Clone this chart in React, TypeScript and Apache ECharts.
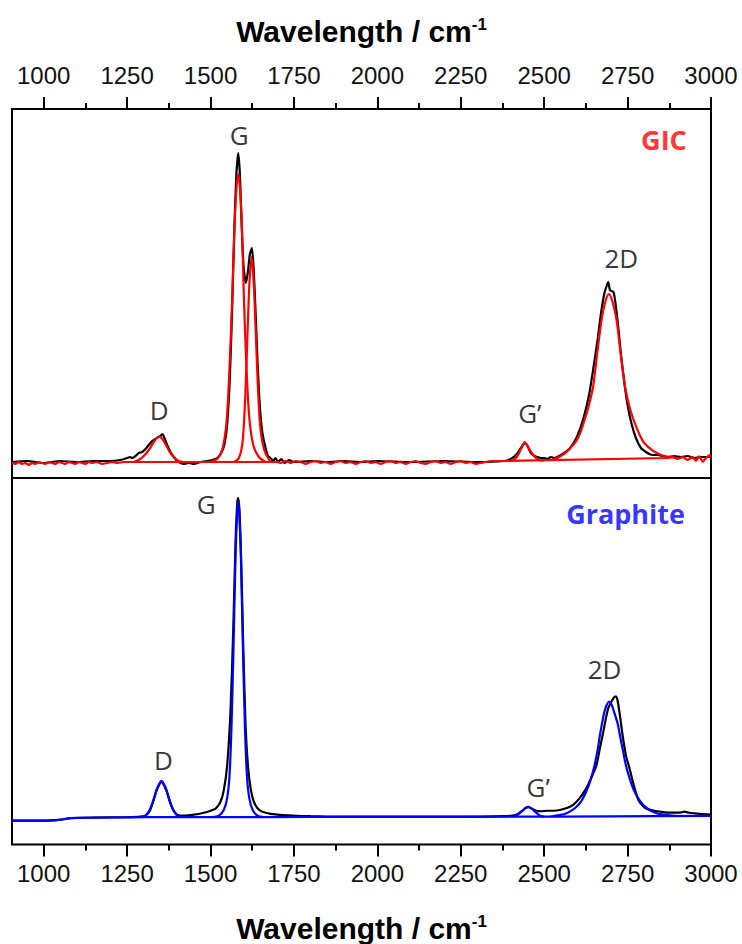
import React, { useEffect, useRef } from "react";
import * as echarts from "echarts";

// ---- axis ticks (cm^-1) ----
const majorTicks = [1000, 1250, 1500, 1750, 2000, 2250, 2500, 2750, 3000];
const minorTicks = [1125, 1375, 1625, 1875, 2125, 2375, 2625, 2875];

// ---- GIC panel (top) : [wavenumber, intensity a.u.] ----
const gicMeasured = [
  [905, 0], [950, 1], [1000, -1], [1050, 1], [1100, 0], [1150, 1], [1200, 1], [1230, 2], [1250, 4], [1258, 5], [1265, 4],
  [1275, 6], [1285, 9], [1295, 10], [1305, 13], [1315, 17], [1325, 21], [1335, 23], [1343, 25], [1350, 26], [1356, 28],
  [1362, 24], [1370, 17], [1380, 10], [1390, 5], [1400, 1], [1410, -1], [1420, -2], [1435, -1], [1450, -2], [1470, 0],
  [1490, 1], [1505, 2], [1520, 4], [1532, 9], [1542, 18], [1550, 38], [1558, 85], [1565, 155], [1571, 230], [1577, 285],
  [1583, 309], [1588, 288], [1593, 240], [1599, 196], [1606, 179], [1612, 190], [1618, 208], [1624, 214], [1629, 195],
  [1635, 150], [1641, 100], [1648, 55], [1656, 28], [1665, 14], [1672, 6], [1680, 4], [1688, 1], [1695, 4], [1702, 0],
  [1712, 3], [1722, -1], [1735, 2], [1750, 0], [1800, 1], [1850, 0], [1900, 1], [1950, 0], [2000, 1], [2100, 0],
  [2200, 1], [2300, 0], [2380, 1], [2400, 3], [2418, 8], [2432, 15], [2442, 19], [2450, 16], [2460, 9], [2470, 6],
  [2480, 5], [2490, 4], [2500, 4], [2510, 3], [2520, 5], [2530, 4], [2545, 6], [2560, 9], [2578, 14], [2598, 25],
  [2618, 44], [2635, 68], [2648, 95], [2660, 122], [2670, 148], [2680, 168], [2687, 176], [2692, 180], [2697, 172],
  [2702, 171], [2708, 170], [2714, 158], [2722, 135], [2730, 108], [2740, 80], [2750, 57], [2762, 38], [2775, 24],
  [2790, 14], [2805, 10], [2815, 8], [2825, 7], [2840, 7], [2855, 6], [2870, 5], [2890, 6], [2910, 5], [2930, 6],
  [2950, 4], [2970, 5], [3000, 5],
];
const gicBaseline = [
  [905, -1], [915, -2], [925, 0], [935, -2], [945, -1], [955, -3], [965, -1], [975, -2], [985, 0], [995, -1], [1005, -2],
  [1015, 0], [1025, -1], [1035, -2], [1045, 0], [1055, -1], [1065, -2], [1075, 0], [1085, -1], [1095, -2], [1105, 0],
  [1115, -1], [1125, -2], [1135, 0], [1145, -1], [1160, 0], [1175, -2], [1190, -1], [1205, 0], [1220, -1], [1240, 0],
  [1260, 0], [1700, 0], [1710, -1], [1725, 1], [1740, -1], [1755, 1], [1770, 0], [1785, -2], [1800, 0], [1815, 1],
  [1830, -1], [1845, 0], [1860, -2], [1875, 0], [1890, 1], [1905, -1], [1920, 0], [1935, -2], [1950, 0], [1965, 1],
  [1980, -1], [1995, 0], [2010, -2], [2025, 0], [2040, 1], [2055, -1], [2070, 0], [2085, -2], [2100, 0], [2115, 1],
  [2130, -1], [2145, -2], [2160, 0], [2175, 1], [2190, -1], [2205, 0], [2220, -2], [2235, 0], [2250, 1], [2265, -1],
  [2280, 0], [2295, -2], [2310, -1], [2325, 0], [2340, 1], [2360, 1], [2870, 4], [2885, 5], [2900, 3], [2915, 5],
  [2930, 2], [2945, 5], [2955, 1], [2965, 6], [2975, 0], [2985, 4], [2995, 7], [3000, 5],
];
const gicFitD = [[1270, 0], [1285, 2], [1300, 6], [1315, 12], [1328, 19], [1340, 24], [1348, 25], [1356, 23], [1368, 16], [1380, 9], [1393, 4], [1405, 1], [1420, 0]];
const gicFitG = [[1500, 0], [1520, 3], [1535, 12], [1548, 40], [1557, 95], [1565, 165], [1572, 235], [1578, 275], [1583, 288], [1588, 275], [1594, 235], [1600, 165], [1607, 100], [1616, 45], [1628, 17], [1645, 5], [1665, 0]];
const gicFitG2 = [[1570, 0], [1585, 4], [1596, 20], [1604, 65], [1611, 130], [1617, 182], [1623, 205], [1629, 182], [1635, 135], [1642, 75], [1650, 32], [1662, 11], [1680, 0]];
const gicFitGp = [[2405, 1], [2420, 6], [2432, 14], [2442, 20], [2452, 15], [2465, 8], [2480, 3], [2498, 1]];
const gicFit2D = [[2520, 2], [2545, 5], [2567, 10], [2600, 23], [2622, 43], [2635, 58], [2647, 76], [2659, 109], [2672, 142], [2683, 160], [2694, 168], [2705, 160], [2717, 142], [2729, 109], [2742, 76], [2755, 56], [2767, 43], [2785, 28], [2800, 19], [2827, 11], [2860, 6], [2900, 4]];

// ---- Graphite panel (bottom) ----
const graphiteMeasured = [
  [905, -1], [1000, -1], [1050, 0], [1080, 1.5], [1150, 2], [1250, 2.5], [1290, 3], [1305, 4], [1318, 9], [1328, 18],
  [1338, 29], [1346, 35], [1353, 38], [1360, 35], [1368, 29], [1378, 18], [1388, 10], [1400, 5], [1420, 4], [1450, 5],
  [1480, 7], [1500, 9], [1515, 11], [1530, 18], [1540, 30], [1550, 55], [1560, 110], [1568, 190], [1575, 280],
  [1580, 318], [1583, 324], [1587, 310], [1592, 260], [1598, 175], [1605, 95], [1612, 55], [1620, 32], [1630, 18],
  [1645, 10], [1665, 7], [1700, 5], [1750, 4], [1800, 3.5], [1900, 3], [2000, 3], [2100, 3], [2200, 3], [2300, 3],
  [2380, 3.5], [2405, 4], [2420, 5.5], [2435, 9], [2445, 12], [2453, 12.5], [2463, 11], [2476, 9], [2490, 8.5],
  [2510, 9], [2530, 9], [2550, 10], [2570, 12], [2587, 15], [2607, 22], [2627, 32], [2645, 45], [2657, 55], [2667, 72],
  [2677, 88], [2685, 102], [2692, 112], [2700, 118], [2707, 122], [2712, 124], [2716, 124], [2720, 120], [2727, 105],
  [2735, 85], [2745, 65], [2757, 50], [2770, 33], [2782, 20], [2795, 14], [2807, 11], [2830, 9], [2850, 8], [2880, 7],
  [2905, 7], [2920, 8], [2935, 7], [2960, 6], [3000, 5],
];
const graphiteBaseline = [[905, -1], [1000, -1], [1040, -0.5], [1060, 0.5], [1080, 1.5], [1120, 2], [1200, 2.2], [1300, 2.5], [1500, 2.6], [1800, 2.7], [2100, 2.8], [2400, 3], [2700, 3.3], [3000, 3.8]];
const graphiteFitD = [[1290, 2.5], [1305, 4], [1318, 10], [1328, 19], [1338, 30], [1346, 36], [1353, 39], [1360, 36], [1368, 30], [1378, 19], [1388, 10], [1400, 4], [1415, 2.5]];
const graphiteFitG = [[1505, 2.6], [1525, 4], [1540, 10], [1550, 22], [1557, 45], [1563, 95], [1569, 175], [1575, 265], [1580, 310], [1583, 320], [1586, 310], [1591, 265], [1597, 175], [1603, 95], [1609, 45], [1616, 22], [1626, 10], [1641, 4], [1660, 2.7]];
const graphiteFitGp = [[2405, 3], [2420, 5], [2435, 9], [2445, 12], [2453, 13], [2463, 11], [2476, 7], [2488, 4], [2500, 3]];
const graphiteFit2D = [[2520, 3.2], [2545, 4.5], [2567, 6.5], [2590, 11], [2612, 19], [2632, 33], [2649, 52], [2660, 70], [2667, 85], [2680, 108], [2688, 116], [2695, 119], [2702, 116], [2710, 108], [2720, 97], [2727, 85], [2737, 68], [2747, 52], [2767, 31], [2787, 19], [2810, 11], [2837, 6.5], [2870, 4.5], [2900, 3.6]];

// ---- peak annotations [wavenumber, intensity, text] ----
const gicPeakLabels = [[1586, 327, "G"], [1346, 52, "D"], [2457, 49, "G’"], [2731, 204, "2D"]];
const graphitePeakLabels = [[1487, 318, "G"], [1359, 60, "D"], [2482, 33, "G’"], [2681, 152, "2D"]];
const gicTitle = [[2859, 323, "GIC"]];
const graphiteTitle = [[2744, 308, "Graphite"]];

const X_MIN = 905;
const X_MAX = 3000;
const RED = "#ff0000";
const BLUE = "#0000ff";

export default function App() {
  const ref = useRef<HTMLDivElement>(null);
  useEffect(() => {
    if (!ref.current) return;
    const chart = echarts.init(ref.current, null, { renderer: "svg" });
    const tickFont = { fontFamily: "Liberation Sans, Arial, sans-serif", fontSize: 24, color: "#111" };
    const titleRich = {
      a: { fontFamily: "Liberation Sans, Arial, sans-serif", fontSize: 30, fontWeight: "bold", color: "#000" },
      s: { fontFamily: "Liberation Sans, Arial, sans-serif", fontSize: 17, fontWeight: "bold", color: "#000", verticalAlign: "top", padding: [0, 0, 14, 0] },
    };
    const majorAxis = (grid: number, pos: string, gap: number, margin: number) => ({
      type: "value", gridIndex: grid, position: pos, min: X_MIN, max: X_MAX,
      axisLine: { show: false, onZero: false },
      axisTick: { show: true, inside: false, length: 12, customValues: majorTicks, lineStyle: { color: "#000", width: 2 } },
      axisLabel: { show: true, customValues: majorTicks, margin, formatter: (v: number) => String(v), ...tickFont },
      splitLine: { show: false },
      name: "{a|Wavelength / cm}{s|-1}", nameLocation: "middle", nameGap: gap,
      nameTextStyle: { rich: titleRich },
    });
    const minorAxis = (grid: number, pos: string) => ({
      type: "value", gridIndex: grid, position: pos, min: X_MIN, max: X_MAX,
      axisLine: { show: false, onZero: false },
      axisTick: { show: true, inside: false, length: 6, customValues: minorTicks, lineStyle: { color: "#000", width: 2 } },
      axisLabel: { show: false }, splitLine: { show: false },
    });
    const line = (data: number[][], color: string, xi: number, yi: number, z: number, smooth: number | boolean) => ({
      type: "line", data, xAxisIndex: xi, yAxisIndex: yi, showSymbol: false, symbol: "none", smooth,
      lineStyle: { color, width: 2.2 }, z, silent: true,
    });
    const labels = (data: any[], xi: number, yi: number, style: any) => ({
      type: "scatter", data, xAxisIndex: xi, yAxisIndex: yi, symbolSize: 1, z: 10,
      itemStyle: { color: "rgba(0,0,0,0)" }, silent: true,
      label: { show: true, position: "inside", formatter: (p: any) => p.data[2], ...style },
    });
    const peakStyle = { fontFamily: "Open Sans, Noto Sans, sans-serif", fontSize: 26, color: "#000" };

    chart.setOption({
      animation: false,
      backgroundColor: "#fff",
      grid: [
        { left: 12, right: 31, top: 109, height: 369, show: true, borderColor: "#000", borderWidth: 2, backgroundColor: "transparent" },
        { left: 12, right: 31, top: 478, height: 369, show: true, borderColor: "#000", borderWidth: 2, backgroundColor: "transparent" },
      ],
      xAxis: [majorAxis(0, "top", 62, 22), minorAxis(0, "top"), majorAxis(1, "bottom", 68, 17), minorAxis(1, "bottom")],
      yAxis: [
        { type: "value", gridIndex: 0, min: -16, max: 353, show: false },
        { type: "value", gridIndex: 1, min: -25, max: 344, show: false },
      ],
      series: [
        line(gicMeasured, "#000", 0, 0, 2, 0.2),
        line(gicBaseline, RED, 0, 0, 3, false),
        line(gicFitD, RED, 0, 0, 3, 0.3),
        line(gicFitG, RED, 0, 0, 3, 0.3),
        line(gicFitG2, RED, 0, 0, 3, 0.3),
        line(gicFitGp, RED, 0, 0, 3, 0.3),
        line(gicFit2D, RED, 0, 0, 3, 0.3),
        line(graphiteMeasured, "#000", 2, 1, 2, 0.2),
        line(graphiteBaseline, BLUE, 2, 1, 3, 0.3),
        line(graphiteFitD, BLUE, 2, 1, 3, 0.3),
        line(graphiteFitG, BLUE, 2, 1, 3, 0.3),
        line(graphiteFitGp, BLUE, 2, 1, 3, 0.3),
        line(graphiteFit2D, BLUE, 2, 1, 3, 0.3),
        labels(gicPeakLabels, 0, 0, peakStyle),
        labels(graphitePeakLabels, 2, 1, peakStyle),
        labels(gicTitle, 0, 0, { ...peakStyle, fontWeight: "bold", color: RED, fontSize: 27 }),
        labels(graphiteTitle, 2, 1, { ...peakStyle, fontWeight: "bold", color: BLUE, fontSize: 27 }),
      ],
    });
    return () => chart.dispose();
  }, []);
  return <div ref={ref} style={{ position: "fixed", left: 0, top: 0, width: 742, height: 944 }} />;
}
